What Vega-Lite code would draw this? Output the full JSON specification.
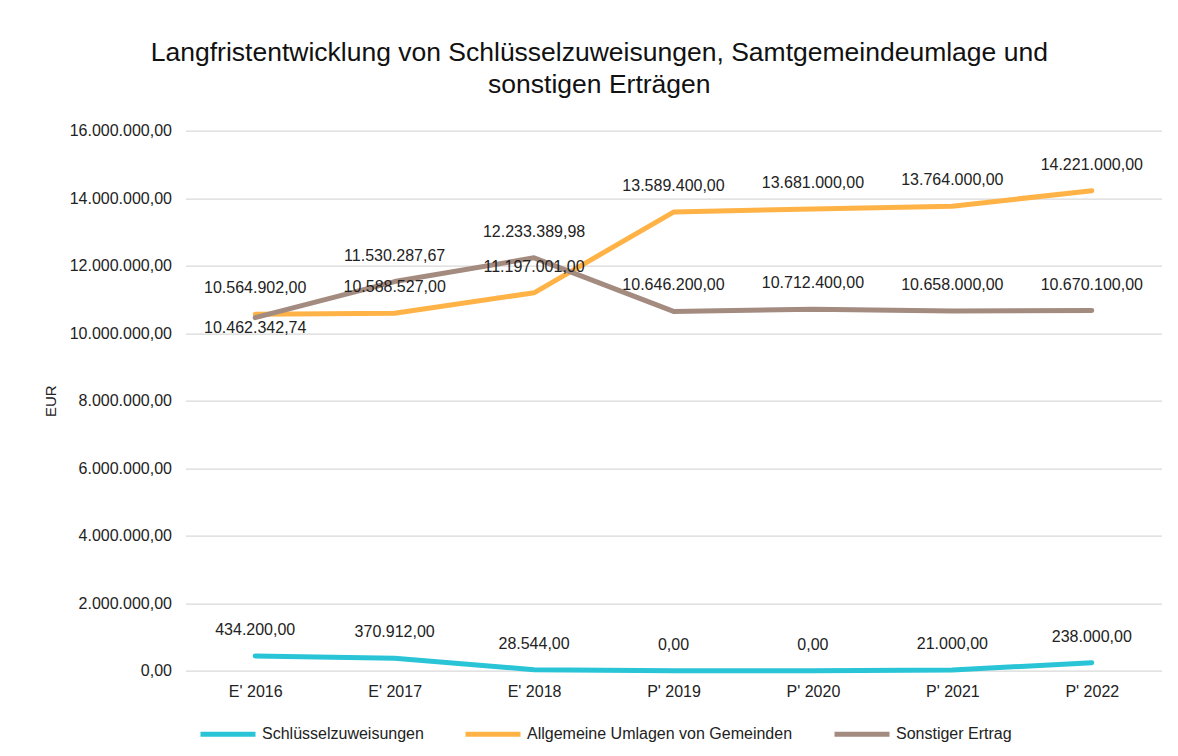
{
  "$schema": "https://vega.github.io/schema/vega-lite/v6.json",
  "width": 976,
  "height": 540,
  "autosize": {"type": "none"},
  "padding": {"left": 185.5, "top": 130.7, "right": 16.5, "bottom": 85.3},
  "background": "white",
  "config": {
    "locale": {"number": {"decimal": ",", "thousands": ".", "grouping": [3], "currency": ["", " €"]}},
    "font": "Liberation Sans",
    "view": {"stroke": null}
  },
  "title": {
    "text": ["Langfristentwicklung von Schlüsselzuweisungen, Samtgemeindeumlage und", "sonstigen Erträgen"],
    "fontSize": 26.5,
    "fontWeight": "normal",
    "font": "Liberation Sans",
    "color": "#111111",
    "anchor": "middle",
    "frame": "bounds",
    "offset": 24,
    "lineHeight": 32,
    "dx": -3
  },
  "data": {
    "values": [
      {"jahr": "E' 2016", "reihe": "Schlüsselzuweisungen", "wert": 434200},
      {"jahr": "E' 2017", "reihe": "Schlüsselzuweisungen", "wert": 370912},
      {"jahr": "E' 2018", "reihe": "Schlüsselzuweisungen", "wert": 28544},
      {"jahr": "P' 2019", "reihe": "Schlüsselzuweisungen", "wert": 0},
      {"jahr": "P' 2020", "reihe": "Schlüsselzuweisungen", "wert": 0},
      {"jahr": "P' 2021", "reihe": "Schlüsselzuweisungen", "wert": 21000},
      {"jahr": "P' 2022", "reihe": "Schlüsselzuweisungen", "wert": 238000},
      {"jahr": "E' 2016", "reihe": "Allgemeine Umlagen von Gemeinden", "wert": 10564902},
      {"jahr": "E' 2017", "reihe": "Allgemeine Umlagen von Gemeinden", "wert": 10588527},
      {"jahr": "E' 2018", "reihe": "Allgemeine Umlagen von Gemeinden", "wert": 11197001},
      {"jahr": "P' 2019", "reihe": "Allgemeine Umlagen von Gemeinden", "wert": 13589400},
      {"jahr": "P' 2020", "reihe": "Allgemeine Umlagen von Gemeinden", "wert": 13681000},
      {"jahr": "P' 2021", "reihe": "Allgemeine Umlagen von Gemeinden", "wert": 13764000},
      {"jahr": "P' 2022", "reihe": "Allgemeine Umlagen von Gemeinden", "wert": 14221000},
      {"jahr": "E' 2016", "reihe": "Sonstiger Ertrag", "wert": 10462342.74},
      {"jahr": "E' 2017", "reihe": "Sonstiger Ertrag", "wert": 11530287.67},
      {"jahr": "E' 2018", "reihe": "Sonstiger Ertrag", "wert": 12233389.98},
      {"jahr": "P' 2019", "reihe": "Sonstiger Ertrag", "wert": 10646200},
      {"jahr": "P' 2020", "reihe": "Sonstiger Ertrag", "wert": 10712400},
      {"jahr": "P' 2021", "reihe": "Sonstiger Ertrag", "wert": 10658000},
      {"jahr": "P' 2022", "reihe": "Sonstiger Ertrag", "wert": 10670100}
    ]
  },
  "encoding": {
    "x": {
      "field": "jahr",
      "type": "ordinal",
      "sort": null,
      "scale": {"type": "point", "padding": 0.5},
      "axis": {
        "title": null,
        "labelAngle": 0,
        "domain": false,
        "ticks": false,
        "tickSize": 0,
        "grid": false,
        "labelPadding": 13,
        "labelFontSize": 16,
        "labelColor": "#222222",
        "labelFont": "Liberation Sans"
      }
    },
    "y": {
      "field": "wert",
      "type": "quantitative",
      "scale": {"domain": [0, 16000000], "nice": false},
      "axis": {
        "title": "EUR",
        "titleFontSize": 15,
        "titleFontWeight": "normal",
        "titleColor": "#222222",
        "titleFont": "Liberation Sans",
        "titlePadding": 11,
        "values": [0, 2000000, 4000000, 6000000, 8000000, 10000000, 12000000, 14000000, 16000000],
        "format": ",.2f",
        "domain": false,
        "ticks": false,
        "tickSize": 0,
        "labelPadding": 14,
        "labelFontSize": 16,
        "labelColor": "#222222",
        "labelFont": "Liberation Sans",
        "gridColor": "#D9D9D9",
        "gridWidth": 1.3
      }
    }
  },
  "layer": [
    {
      "mark": {"type": "line", "strokeWidth": 5, "strokeCap": "round", "strokeJoin": "round"},
      "encoding": {
        "color": {
          "field": "reihe",
          "type": "nominal",
          "sort": null,
          "scale": {
            "domain": ["Schlüsselzuweisungen", "Allgemeine Umlagen von Gemeinden", "Sonstiger Ertrag"],
            "range": ["#2AC4D7", "#FFB347", "#A38B80"]
          },
          "legend": {
            "title": null,
            "orient": "none",
            "legendX": 12.5,
            "legendY": 573.5,
            "direction": "horizontal",
            "symbolType": "stroke",
            "symbolSize": 3025,
            "symbolStrokeWidth": 5,
            "labelFontSize": 16,
            "labelFont": "Liberation Sans",
            "labelColor": "#222222",
            "labelOffset": 4,
            "columnPadding": 31,
            "labelLimit": 400
          }
        }
      }
    },
    {
      "transform": [{"filter": "!(datum.reihe === 'Sonstiger Ertrag' && datum.jahr === \"E' 2016\")"}],
      "mark": {"type": "text", "dy": -21, "baseline": "alphabetic", "fontSize": 16, "font": "Liberation Sans", "color": "#222222"},
      "encoding": {"text": {"field": "wert", "type": "quantitative", "format": ",.2f"}}
    },
    {
      "transform": [{"filter": "datum.reihe === 'Sonstiger Ertrag' && datum.jahr === \"E' 2016\""}],
      "mark": {"type": "text", "dy": 15, "baseline": "alphabetic", "fontSize": 16, "font": "Liberation Sans", "color": "#222222"},
      "encoding": {"text": {"field": "wert", "type": "quantitative", "format": ",.2f"}}
    }
  ]
}
